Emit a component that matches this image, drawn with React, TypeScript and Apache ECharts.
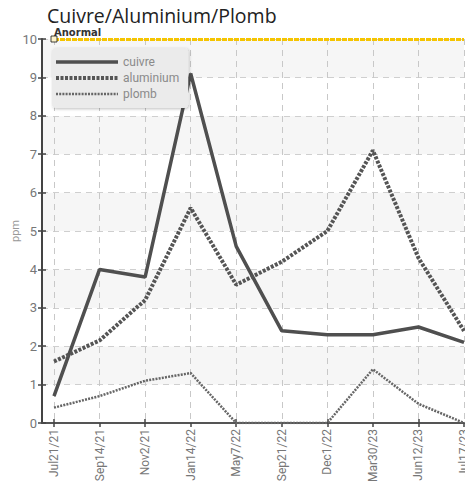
import React, { useEffect, useRef } from "react";
import * as echarts from "echarts";

const categories = ["Jul21/21", "Sep14/21", "Nov2/21", "Jan14/22", "May7/22", "Sep21/22", "Dec1/22", "Mar30/23", "Jun12/23", "Jul17/23"];
const cuivre = [0.7, 4.0, 3.8, 9.1, 4.6, 2.4, 2.3, 2.3, 2.5, 2.1];
const aluminium = [1.6, 2.15, 3.2, 5.6, 3.6, 4.2, 5.0, 7.1, 4.3, 2.4];
const plomb = [0.4, 0.7, 1.1, 1.3, 0, 0, 0, 1.4, 0.5, 0];
const anormalLevel = 10;
const yMin = 0;
const yMax = 10;

const NARROW = "'Liberation Sans Narrow', 'Roboto', sans-serif";

const cuivreStyle = { color: "#4f4f4f", width: 3.5, type: "solid" as any };
const aluminiumStyle = { color: "#555555", width: 4, type: [3, 1.5] as any };
const plombStyle = { color: "#666666", width: 2.5, type: [2, 1.2] as any };

export default function App() {
  const ref = useRef<HTMLDivElement>(null);
  useEffect(() => {
    if (!ref.current) return;
    const chart = echarts.init(ref.current, undefined, { renderer: "svg" });
    const grid1 = { left: 42, right: 1, top: 39, bottom: 61, outerBoundsMode: "none", containLabel: false };
    const grid2 = { left: 54, right: 1, top: 39, bottom: 61, outerBoundsMode: "none", containLabel: false };
    chart.setOption({
      animation: false,
      backgroundColor: "#ffffff",
      title: {
        text: "Cuivre/Aluminium/Plomb",
        left: 47,
        top: 5,
        padding: 0,
        textStyle: { fontFamily: "'Open Sans', sans-serif", fontSize: 19.5, fontWeight: "normal", color: "#222" },
      },
      legend: {
        data: [
          { name: "cuivre", lineStyle: cuivreStyle },
          { name: "aluminium", lineStyle: aluminiumStyle },
          { name: "plomb", lineStyle: plombStyle },
        ],
        orient: "vertical",
        left: 52,
        top: 48,
        itemWidth: 62,
        itemHeight: 12,
        itemGap: 4,
        padding: [8, 9, 8, 2],
        backgroundColor: "#ebebeb",
        borderRadius: 4,
        shadowColor: "rgba(0,0,0,0.25)",
        shadowBlur: 3,
        shadowOffsetX: 1,
        shadowOffsetY: 1,
        itemStyle: { opacity: 0 },
        textStyle: { fontFamily: NARROW, fontSize: 12, color: "#8a8a8a" },
      },
      grid: [grid1, grid2],
      xAxis: [
        {
          type: "value", gridIndex: 0, min: 0, max: 1, z: 0,
          axisLine: { show: true, lineStyle: { color: "#555", width: 2 } },
          axisTick: { show: false }, axisLabel: { show: false }, splitLine: { show: false },
        },
        {
          type: "category", gridIndex: 1, data: categories, boundaryGap: false, z: 1,
          axisLine: { show: false },
          axisTick: { show: true, alignWithLabel: true, length: 4, lineStyle: { color: "#444", width: 1.5 } },
          axisLabel: { rotate: 90, margin: 6, fontFamily: NARROW, fontSize: 12, color: "#777", interval: 0, hideOverlap: false },
          splitLine: { show: true, lineStyle: { color: "#c8c8c8", type: [6, 5], width: 1 } },
        },
        {
          type: "category", gridIndex: 1, data: categories, boundaryGap: false, z: 1, position: "bottom",
          axisLine: { show: false },
          axisTick: { show: true, inside: true, length: 4, lineStyle: { color: "#444", width: 1.5 } },
          axisLabel: { show: false }, splitLine: { show: false },
        },
      ],
      yAxis: [
        {
          type: "value", gridIndex: 0, min: yMin, max: yMax, interval: 1, z: 0,
          name: "ppm", nameLocation: "middle", nameGap: 21, nameMoveOverlap: false,
          nameTextStyle: { fontFamily: NARROW, fontSize: 11, color: "#999" },
          axisLine: { show: true, lineStyle: { color: "#444", width: 2 } },
          axisTick: { show: true, length: 4, lineStyle: { color: "#444", width: 1.5 } },
          axisLabel: { margin: 5, fontFamily: NARROW, fontSize: 13, color: "#777" },
          splitLine: { show: true, lineStyle: { color: "#cfcfcf", type: [6, 5], width: 1 } },
          splitArea: { show: true, areaStyle: { color: ["#ffffff", "#f6f6f6"] } },
        },
        {
          type: "value", gridIndex: 0, min: yMin, max: yMax, interval: 1, z: 0, position: "left",
          axisLine: { show: false },
          axisTick: { show: true, inside: true, length: 4, lineStyle: { color: "#444", width: 1.5 } },
          axisLabel: { show: false }, splitLine: { show: false },
        },
        {
          type: "value", gridIndex: 1, min: yMin, max: yMax, interval: 1, show: false,
        },
      ],
      series: [
        {
          name: "cuivre", type: "line", xAxisIndex: 1, yAxisIndex: 2, data: cuivre,
          symbol: "none", showSymbol: false, color: "#4f4f4f",
          lineStyle: cuivreStyle,
          markLine: {
            silent: true,
            symbol: ["rect", "none"],
            symbolSize: 6,
            data: [{ yAxis: anormalLevel }],
            lineStyle: { color: "#f5c400", width: 3, type: [5, 1] },
            label: {
              show: true, position: "insideStartTop", formatter: "Anormal", distance: [0, 2],
              fontFamily: "'DejaVu Sans', sans-serif", fontSize: 10, fontWeight: "bold", color: "#333",
            },
          },
        },
        {
          name: "aluminium", type: "line", xAxisIndex: 1, yAxisIndex: 2, data: aluminium,
          symbol: "none", showSymbol: false, color: "#555555",
          lineStyle: aluminiumStyle,
        },
        {
          name: "plomb", type: "line", xAxisIndex: 1, yAxisIndex: 2, data: plomb,
          symbol: "none", showSymbol: false, color: "#666666",
          lineStyle: plombStyle,
        },
        {
          name: "Anormal", type: "scatter", xAxisIndex: 1, yAxisIndex: 2, data: [[0, anormalLevel]],
          symbol: "rect", symbolSize: 6, silent: true, z: 5,
          itemStyle: { color: "#ffffff", borderColor: "#111111", borderWidth: 1 },
        },
      ],
    });
    return () => chart.dispose();
  }, []);
  return <div ref={ref} style={{ width: 465, height: 484, position: "absolute", left: 0, top: 0 }} />;
}
